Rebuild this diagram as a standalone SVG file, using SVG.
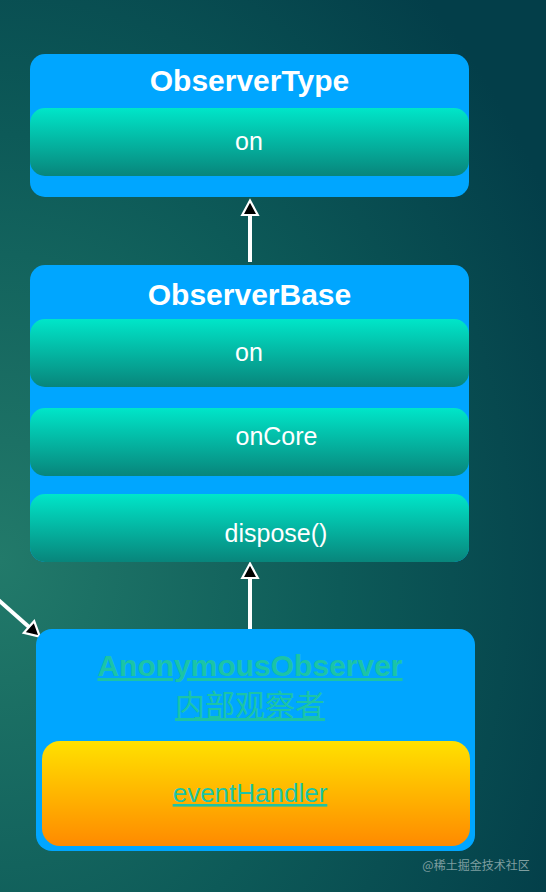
<svg xmlns="http://www.w3.org/2000/svg" width="546" height="892" viewBox="0 0 546 892">
<defs>
<radialGradient id="bg" cx="0" cy="560" r="620" gradientUnits="userSpaceOnUse" gradientTransform="translate(0,560) scale(1,1.25) translate(0,-560)">
<stop offset="0" stop-color="#227a6a"/>
<stop offset="0.55" stop-color="#0d5a58"/>
<stop offset="1" stop-color="#033e49"/>
</radialGradient>
<linearGradient id="teal" x1="0" y1="0" x2="0" y2="1">
<stop offset="0" stop-color="#00e6c9"/>
<stop offset="1" stop-color="#08857b"/>
</linearGradient>
<linearGradient id="orange" x1="0" y1="0" x2="0" y2="1">
<stop offset="0" stop-color="#ffe100"/>
<stop offset="1" stop-color="#ff8a00"/>
</linearGradient>
<marker id="arr" markerUnits="userSpaceOnUse" markerWidth="20" markerHeight="20" viewBox="-2 -9 18 18" refX="0" refY="0" orient="auto">
<path d="M0,-7 L13,0 L0,7 Z" fill="#000" stroke="#fff" stroke-width="2" stroke-linejoin="miter"/>
</marker>
<style>
.outer{fill:#00a6ff}
.inner{fill:url(#teal)}
.title{font-family:"Liberation Sans",Arial,sans-serif;font-weight:bold;font-size:30px;fill:#fff;text-anchor:middle}
.item{font-family:"Liberation Sans",Arial,sans-serif;font-size:25px;fill:#fff;text-anchor:middle}
.link{font-family:"Liberation Sans","Noto Sans CJK SC",sans-serif;fill:#1cc4a6;text-anchor:middle;text-decoration:underline}
.conn{stroke:#fff;stroke-width:4;fill:none}
</style>
</defs>
<rect x="0" y="0" width="546" height="892" fill="url(#bg)"/>
<g id="connectors">
<line class="conn" x1="250" y1="262" x2="250" y2="215" marker-end="url(#arr)"/>
<line class="conn" x1="250" y1="630" x2="250" y2="578" marker-end="url(#arr)"/>
<line class="conn" x1="-6" y1="596" x2="29" y2="627" marker-end="url(#arr)"/>
</g>
<g id="ObserverType">
<rect class="outer" x="30" y="54" width="439" height="143" rx="15"/>
<text class="title" x="249.5" y="91">ObserverType</text>
<g id="ObserverType-on">
<rect class="inner" x="30" y="108" width="439" height="68" rx="15"/>
<text class="item" x="249" y="150">on</text>
</g>
</g>
<g id="ObserverBase">
<rect class="outer" x="30" y="265" width="439" height="297" rx="15"/>
<text class="title" x="249.5" y="305">ObserverBase</text>
<g id="ObserverBase-on">
<rect class="inner" x="30" y="319" width="439" height="68" rx="15"/>
<text class="item" x="249" y="361">on</text>
</g>
<g id="ObserverBase-onCore">
<rect class="inner" x="30" y="408" width="439" height="68" rx="15"/>
<text class="item" x="276.5" y="445">onCore</text>
</g>
<g id="ObserverBase-dispose">
<rect class="inner" x="30" y="494" width="439" height="68" rx="15"/>
<text class="item" x="276" y="542">dispose()</text>
</g>
</g>
<g id="AnonymousObserver">
<rect class="outer" x="36" y="629" width="439" height="222" rx="16"/>
<text class="link" x="250" y="676" font-size="30" font-weight="bold">AnonymousObserver</text>
<text class="link" x="250" y="716" font-size="30">内部观察者</text>
<g id="eventHandler">
<rect x="42" y="741" width="428" height="105" rx="18" fill="url(#orange)"/>
<text class="link" x="250" y="802" font-size="26">eventHandler</text>
</g>
</g>
<text x="476" y="870" font-family="'Noto Sans CJK SC',sans-serif" font-size="12" fill="#7f9ea0" text-anchor="middle">@稀土掘金技术社区</text>
</svg>
